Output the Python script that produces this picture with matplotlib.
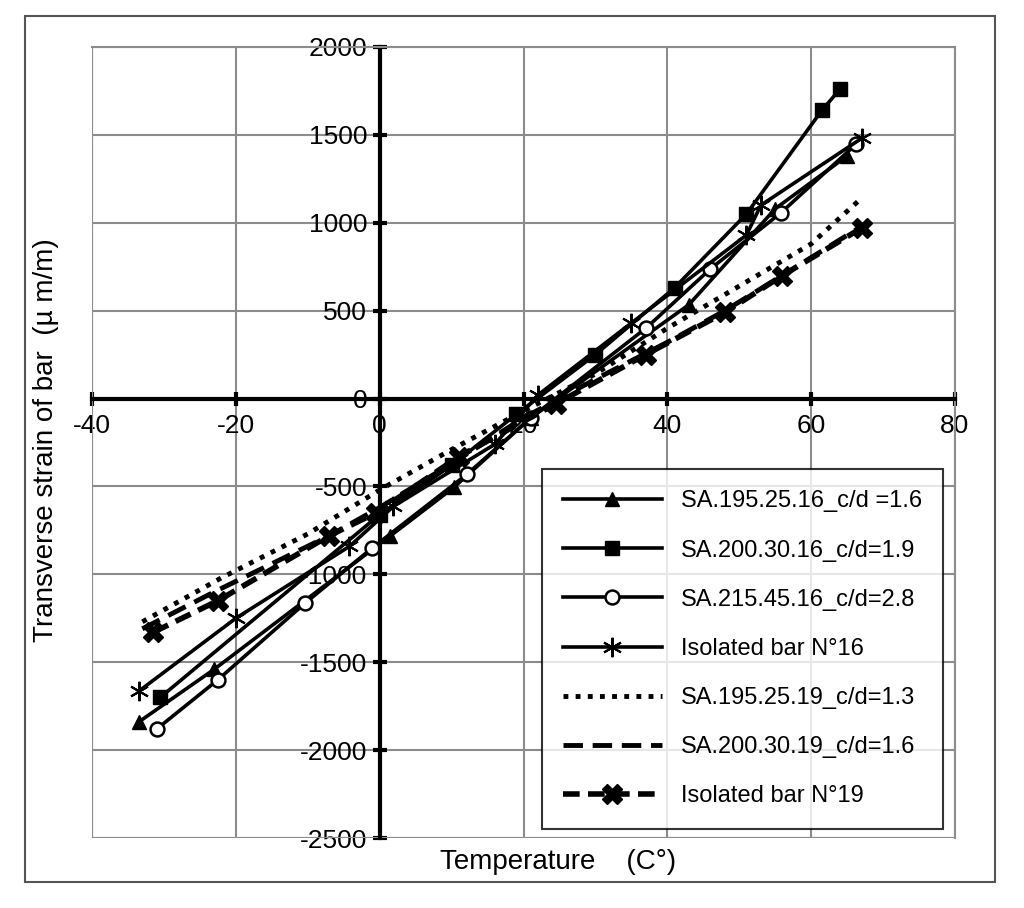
import matplotlib
matplotlib.use("Agg")
import matplotlib.pyplot as plt
from matplotlib.patches import Rectangle

# series data (temperature C°, strain µm/m)
t_a1 = [-33.5, -23, 1.4, 10.3, 21, 43, 55, 65]
s_a1 = [-1840, -1540, -784, -506, -110, 534, 1080, 1380]
t_a2 = [-30.5, 0, 10, 19, 30, 41, 51, 61.5, 64]
s_a2 = [-1700, -660, -380, -90, 250, 630, 1050, 1640, 1760]
t_a3 = [-31, -22.5, -10.4, -1.1, 12.1, 21, 37.1, 46, 55.8, 66.3]
s_a3 = [-1880, -1600, -1165, -852, -432, -110, 403, 738, 1057, 1449]
t_i16 = [-33.5, -20, -4.2, 1.9, 16, 22, 35, 51, 53, 67]
s_i16 = [-1665, -1250, -841, -614, -260, 20, 430, 930, 1100, 1480]
t_b1 = [-33, -22, -10, 0, 10, 20, 30, 40, 50, 60, 67]
s_b1 = [-1270, -1020, -770, -520, -290, -70, 140, 400, 640, 880, 1140]
t_b2 = [-33, -23, -7, 0, 10, 20, 30, 40, 48, 56, 67]
s_b2 = [-1310, -1100, -780, -620, -370, -110, 110, 320, 500, 700, 980]
t_i19 = [-31.5, -22.5, -7, -0.5, 11, 24.5, 37, 48, 56, 67]
s_i19 = [-1330, -1150, -780, -650, -330, -30, 250, 490, 700, 970]

names = ["SA.195.25.16_c/d =1.6", "SA.200.30.16_c/d=1.9", "SA.215.45.16_c/d=2.8",
         "Isolated bar N°16", "SA.195.25.19_c/d=1.3", "SA.200.30.19_c/d=1.6",
         "Isolated bar N°19"]

plt.rcParams["font.family"] = "Liberation Sans"
plt.rcParams["axes.unicode_minus"] = False
fig = plt.figure(figsize=(10.24, 9.08), dpi=100)
ax = fig.add_axes([92/1024, 1 - 838/908, (955-92)/1024, (838-47)/908])

ax.plot(t_a1, s_a1, "k-", lw=2.6, marker="^", ms=10, label=names[0])
ax.plot(t_a2, s_a2, "k-", lw=2.6, marker="s", ms=10, label=names[1])
ax.plot(t_a3, s_a3, "k-", lw=2.6, marker="o", ms=10, mfc="white", mec="black", mew=1.8, label=names[2])
ax.plot(t_i16, s_i16, "k-", lw=2.6, marker=(6, 2, 0), ms=14, mew=1.5, label=names[3])
ax.plot(t_b1, s_b1, "k", lw=3.5, ls=(0, (1, 1.5)), label=names[4])
ax.plot(t_b2, s_b2, "k", lw=3.5, ls=(0, (4, 2)), label=names[5])
ax.plot(t_i19, s_i19, "k", lw=4, ls=(0, (3, 1.5)), marker="X", ms=14, label=names[6])

ax.set_xlim(-40, 80)
ax.set_ylim(-2500, 2000)
ax.set_xticks(range(-40, 81, 20))
ax.set_yticks(range(-2500, 2001, 500))
ax.grid(color="#8c8c8c", lw=1.5)
for s in ["top", "right"]:
    ax.spines[s].set_color("#8c8c8c")
    ax.spines[s].set_linewidth(1.5)
ax.spines["left"].set_position(("data", 0))
ax.spines["bottom"].set_position(("data", 0))
ax.spines["left"].set_linewidth(3)
ax.spines["bottom"].set_linewidth(3)
ax.axvline(-40, color="#8c8c8c", lw=1.5)
ax.axhline(-2500, color="#8c8c8c", lw=1.5)
ax.tick_params(labelsize=19, width=3, length=10, direction="inout")
ax.tick_params(axis="x", pad=6)
ax.tick_params(axis="y", pad=4)

leg = ax.legend(loc="lower right", bbox_to_anchor=(1.0, -0.003), fontsize=17,
                frameon=True, fancybox=False, edgecolor="black", handlelength=4.2,
                labelspacing=1.15, borderpad=0.9)
leg.get_frame().set_linewidth(1.5)

fig.text(0.045, 1 - 440/908, "Transverse strain of bar  (µ m/m)", rotation=90,
         fontsize=20, ha="center", va="center")
fig.text(0.545, 1 - 862/908, "Temperature    (C°)", fontsize=20, ha="center", va="center")
fig.patches.append(Rectangle((25/1024, 1 - 882/908), 970/1024, 866/908, transform=fig.transFigure,
                             fill=False, ec="#555555", lw=1.5))

fig.savefig("out.png", dpi=100)
